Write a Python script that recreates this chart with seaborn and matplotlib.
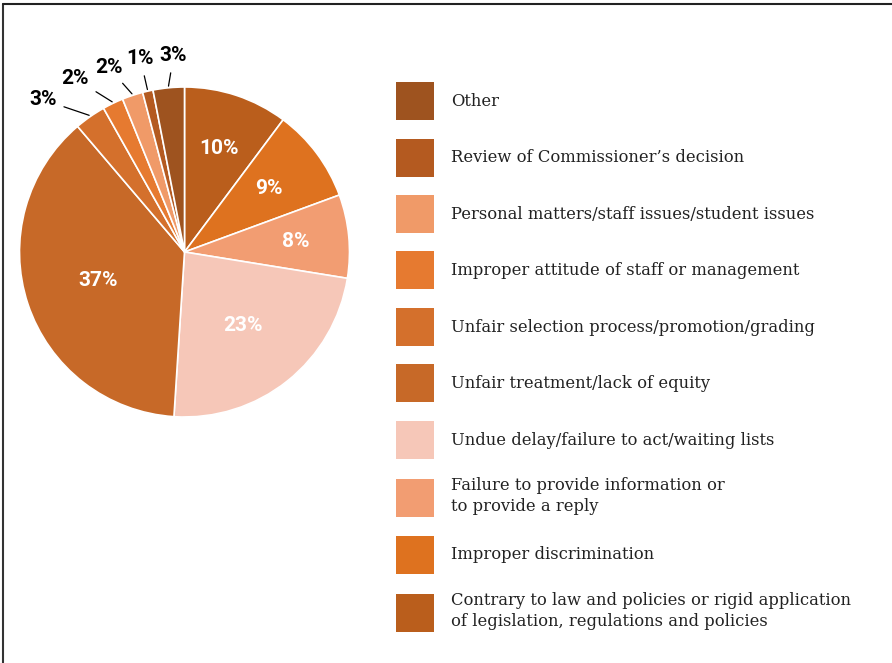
import matplotlib
matplotlib.use("Agg")
import numpy as np
import matplotlib.pyplot as plt
import seaborn as sns
from matplotlib.lines import Line2D

# Complaint categories, in clockwise order from 12 o'clock
categories = [
    "Contrary to law and policies or rigid application\nof legislation, regulations and policies",
    "Improper discrimination",
    "Failure to provide information or\nto provide a reply",
    "Undue delay/failure to act/waiting lists",
    "Unfair treatment/lack of equity",
    "Unfair selection process/promotion/grading",
    "Improper attitude of staff or management",
    "Personal matters/staff issues/student issues",
    "Review of Commissioner\u2019s decision",
    "Other",
]
shares = [10, 9, 8, 23, 37, 3, 2, 2, 1, 3]
colors = [
    "#BA5E1C", "#DE721F", "#F29D72", "#F6C7B8", "#C76928",
    "#D4702C", "#E67A30", "#F09A68", "#B45A20", "#9E531F",
]

# label layout: radial factor for inside labels, (angle nudge, radius) for outside ones
inner_radius = [0.66, 0.64, 0.68, 0.57, 0.55]
outer_layout = [(-8.0, 1.26), (-6.5, 1.24), (-4.0, 1.21), (0.0, 1.20), (2.3, 1.19)]

sns.set_theme(style="white")
plt.rcParams["font.family"] = ["DejaVu Serif"]

W, H = 892, 663
fig = plt.figure(figsize=(W / 100, H / 100), dpi=100)
fig.patch.set_facecolor("white")
ax = fig.add_axes([0, 0, 1, 1])

cx, cy, R = 184.5, H - 252, 165
wedges, _ = ax.pie(
    shares, colors=colors, startangle=90, counterclock=False,
    center=(cx, cy), radius=R, frame=True,
    wedgeprops=dict(edgecolor="white", linewidth=1.2),
)
ax.set_xlim(0, W)
ax.set_ylim(0, H)
ax.set_aspect("equal")
ax.axis("off")

pct_font = dict(family=["Roboto", "DejaVu Sans"], weight="bold", size=15)
k_in = 0
k_out = 0
for w, v in zip(wedges, shares):
    mid = np.deg2rad((w.theta1 + w.theta2) / 2)
    if v >= 5:
        r = inner_radius[k_in] * R
        k_in += 1
        ax.text(cx + r * np.cos(mid), cy + r * np.sin(mid), f"{v}%",
                ha="center", va="center", color="white", **pct_font)
    else:
        nudge, rf = outer_layout[k_out]
        k_out += 1
        a = mid + np.deg2rad(-nudge)
        ax.annotate(
            f"{v}%",
            xy=(cx + 1.01 * R * np.cos(mid), cy + 1.01 * R * np.sin(mid)),
            xytext=(cx + rf * R * np.cos(a), cy + rf * R * np.sin(a)),
            ha="center", va="center", color="black", **pct_font,
            arrowprops=dict(arrowstyle="-", color="black", lw=0.9,
                            shrinkA=3, shrinkB=0),
        )

fs = 11.8
fpx = fs * 100 / 72
swatch = 38 / fpx
leg = ax.legend(
    wedges[::-1], categories[::-1],
    loc="upper left", bbox_to_anchor=(396 / W, 1 - 82 / H),
    bbox_transform=fig.transFigure, frameon=False, fontsize=fs,
    handlelength=swatch, handleheight=(swatch - 0.35 * 0.7) / 0.65,
    handletextpad=17 / fpx, labelspacing=18.5 / fpx,
    borderpad=0, borderaxespad=0,
)
for t in leg.get_texts():
    t.set_color("#222222")
    t.set_linespacing(1.3)
for h in leg.legend_handles:
    h.set_edgecolor("none")

# thin frame along the top and left edges
fig.add_artist(Line2D([3 / W, 3 / W], [0, 1 - 4 / H], transform=fig.transFigure,
                      color="#333333", lw=1.5))
fig.add_artist(Line2D([3 / W, 1], [1 - 4 / H, 1 - 4 / H], transform=fig.transFigure,
                      color="#222222", lw=1.5))

fig.savefig("out.png", dpi=100, facecolor="white")
